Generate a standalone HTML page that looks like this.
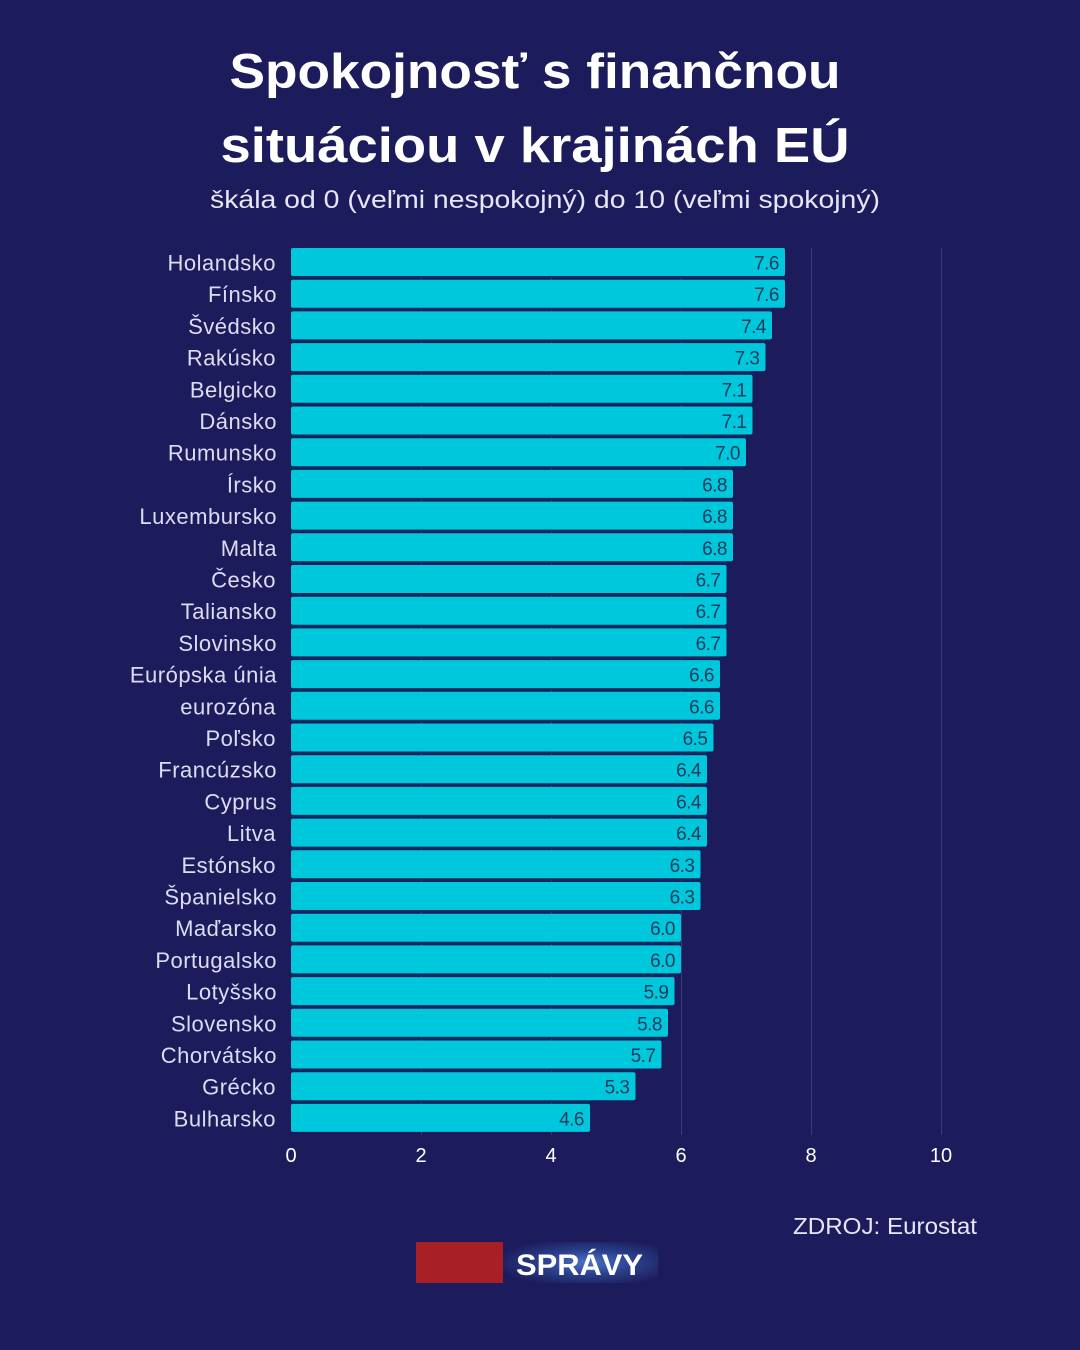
<!DOCTYPE html>
<html><head><meta charset="utf-8">
<style>
html,body{margin:0;padding:0;background:#1c1c5c;}
svg{display:block;}
text{font-family:"Liberation Sans",sans-serif;}
.bar{fill:#00c8dc;}
.gap{fill:#0c2f60;}
.val{font-size:19px;fill:#1f3a5c;text-anchor:end;letter-spacing:-0.5px;}
.lab{font-size:22px;fill:#dcdcf2;text-anchor:end;letter-spacing:0.5px;}
</style></head>
<body>
<svg width="1080" height="1350" viewBox="0 0 1080 1350" xmlns="http://www.w3.org/2000/svg">
<defs>
<radialGradient id="glow" cx="0.55" cy="0.5" r="0.6">
<stop offset="0" stop-color="#4a72c8"/>
<stop offset="0.5" stop-color="#2a3f8a"/>
<stop offset="1" stop-color="#1c1c5c"/>
</radialGradient>
</defs>
<rect width="1080" height="1350" fill="#1c1c5c"/>
<text x="535" y="88" text-anchor="middle" font-size="49" font-weight="bold" fill="#ffffff" textLength="611" lengthAdjust="spacingAndGlyphs">Spokojnosť s finančnou</text>
<text x="535" y="162" text-anchor="middle" font-size="49" font-weight="bold" fill="#ffffff" textLength="629" lengthAdjust="spacingAndGlyphs">situáciou v krajinách EÚ</text>
<text x="545" y="208" text-anchor="middle" font-size="25" fill="#e6e6f5" textLength="670" lengthAdjust="spacingAndGlyphs">škála od 0 (veľmi nespokojný) do 10 (veľmi spokojný)</text>
<g stroke="#3a3a7c" stroke-width="1">
<line x1="421.5" y1="248" x2="421.5" y2="1135"/>
<line x1="551.5" y1="248" x2="551.5" y2="1135"/>
<line x1="681.5" y1="248" x2="681.5" y2="1135"/>
<line x1="811.5" y1="248" x2="811.5" y2="1135"/>
<line x1="941.5" y1="248" x2="941.5" y2="1135"/>
</g>

<rect class="gap" x="291" y="276.2" width="494" height="2"/>
<rect class="gap" x="291" y="307.9" width="481" height="2"/>
<rect class="gap" x="291" y="339.6" width="474.5" height="2"/>
<rect class="gap" x="291" y="371.3" width="461.5" height="2"/>
<rect class="gap" x="291" y="403.0" width="461.5" height="2"/>
<rect class="gap" x="291" y="434.7" width="455" height="2"/>
<rect class="gap" x="291" y="466.4" width="442" height="2"/>
<rect class="gap" x="291" y="498.1" width="442" height="2"/>
<rect class="gap" x="291" y="529.8" width="442" height="2"/>
<rect class="gap" x="291" y="561.5" width="435.5" height="2"/>
<rect class="gap" x="291" y="593.2" width="435.5" height="2"/>
<rect class="gap" x="291" y="624.9" width="435.5" height="2"/>
<rect class="gap" x="291" y="656.6" width="429" height="2"/>
<rect class="gap" x="291" y="688.3" width="429" height="2"/>
<rect class="gap" x="291" y="720.0" width="422.5" height="2"/>
<rect class="gap" x="291" y="751.7" width="416" height="2"/>
<rect class="gap" x="291" y="783.4" width="416" height="2"/>
<rect class="gap" x="291" y="815.1" width="416" height="2"/>
<rect class="gap" x="291" y="846.8" width="409.5" height="2"/>
<rect class="gap" x="291" y="878.5" width="409.5" height="2"/>
<rect class="gap" x="291" y="910.2" width="390" height="2"/>
<rect class="gap" x="291" y="941.9" width="390" height="2"/>
<rect class="gap" x="291" y="973.6" width="383.5" height="2"/>
<rect class="gap" x="291" y="1005.3" width="377" height="2"/>
<rect class="gap" x="291" y="1037.0" width="370.5" height="2"/>
<rect class="gap" x="291" y="1068.7" width="344.5" height="2"/>
<rect class="gap" x="291" y="1100.4" width="299" height="2"/>

<rect class="bar" x="291" y="248.0" width="494" height="28" rx="2"/>
<rect class="bar" x="291" y="279.7" width="494" height="28" rx="2"/>
<rect class="bar" x="291" y="311.4" width="481" height="28" rx="2"/>
<rect class="bar" x="291" y="343.1" width="474.5" height="28" rx="2"/>
<rect class="bar" x="291" y="374.8" width="461.5" height="28" rx="2"/>
<rect class="bar" x="291" y="406.5" width="461.5" height="28" rx="2"/>
<rect class="bar" x="291" y="438.2" width="455" height="28" rx="2"/>
<rect class="bar" x="291" y="469.9" width="442" height="28" rx="2"/>
<rect class="bar" x="291" y="501.6" width="442" height="28" rx="2"/>
<rect class="bar" x="291" y="533.3" width="442" height="28" rx="2"/>
<rect class="bar" x="291" y="565.0" width="435.5" height="28" rx="2"/>
<rect class="bar" x="291" y="596.7" width="435.5" height="28" rx="2"/>
<rect class="bar" x="291" y="628.4" width="435.5" height="28" rx="2"/>
<rect class="bar" x="291" y="660.1" width="429" height="28" rx="2"/>
<rect class="bar" x="291" y="691.8" width="429" height="28" rx="2"/>
<rect class="bar" x="291" y="723.5" width="422.5" height="28" rx="2"/>
<rect class="bar" x="291" y="755.2" width="416" height="28" rx="2"/>
<rect class="bar" x="291" y="786.9" width="416" height="28" rx="2"/>
<rect class="bar" x="291" y="818.6" width="416" height="28" rx="2"/>
<rect class="bar" x="291" y="850.3" width="409.5" height="28" rx="2"/>
<rect class="bar" x="291" y="882.0" width="409.5" height="28" rx="2"/>
<rect class="bar" x="291" y="913.7" width="390" height="28" rx="2"/>
<rect class="bar" x="291" y="945.4" width="390" height="28" rx="2"/>
<rect class="bar" x="291" y="977.1" width="383.5" height="28" rx="2"/>
<rect class="bar" x="291" y="1008.8" width="377" height="28" rx="2"/>
<rect class="bar" x="291" y="1040.5" width="370.5" height="28" rx="2"/>
<rect class="bar" x="291" y="1072.2" width="344.5" height="28" rx="2"/>
<rect class="bar" x="291" y="1103.9" width="299" height="28" rx="2"/>

<text class="val" x="779" y="269.5">7.6</text>
<text class="val" x="779" y="301.2">7.6</text>
<text class="val" x="766" y="332.9">7.4</text>
<text class="val" x="759.5" y="364.6">7.3</text>
<text class="val" x="746.5" y="396.3">7.1</text>
<text class="val" x="746.5" y="428.0">7.1</text>
<text class="val" x="740" y="459.7">7.0</text>
<text class="val" x="727" y="491.4">6.8</text>
<text class="val" x="727" y="523.1">6.8</text>
<text class="val" x="727" y="554.8">6.8</text>
<text class="val" x="720.5" y="586.5">6.7</text>
<text class="val" x="720.5" y="618.2">6.7</text>
<text class="val" x="720.5" y="649.9">6.7</text>
<text class="val" x="714" y="681.6">6.6</text>
<text class="val" x="714" y="713.3">6.6</text>
<text class="val" x="707.5" y="745.0">6.5</text>
<text class="val" x="701" y="776.7">6.4</text>
<text class="val" x="701" y="808.4">6.4</text>
<text class="val" x="701" y="840.1">6.4</text>
<text class="val" x="694.5" y="871.8">6.3</text>
<text class="val" x="694.5" y="903.5">6.3</text>
<text class="val" x="675" y="935.2">6.0</text>
<text class="val" x="675" y="966.9">6.0</text>
<text class="val" x="668.5" y="998.6">5.9</text>
<text class="val" x="662" y="1030.3">5.8</text>
<text class="val" x="655.5" y="1062.0">5.7</text>
<text class="val" x="629.5" y="1093.7">5.3</text>
<text class="val" x="584" y="1125.4">4.6</text>

<text class="lab" x="276" y="270.5">Holandsko</text>
<text class="lab" x="277" y="302.2">Fínsko</text>
<text class="lab" x="276" y="333.9">Švédsko</text>
<text class="lab" x="276" y="365.6">Rakúsko</text>
<text class="lab" x="277" y="397.3">Belgicko</text>
<text class="lab" x="277" y="429.0">Dánsko</text>
<text class="lab" x="277" y="460.7">Rumunsko</text>
<text class="lab" x="277" y="492.4">Írsko</text>
<text class="lab" x="277" y="524.1">Luxembursko</text>
<text class="lab" x="277" y="555.8">Malta</text>
<text class="lab" x="276" y="587.5">Česko</text>
<text class="lab" x="277" y="619.2">Taliansko</text>
<text class="lab" x="277" y="650.9">Slovinsko</text>
<text class="lab" x="277" y="682.6">Európska únia</text>
<text class="lab" x="276" y="714.3">eurozóna</text>
<text class="lab" x="276" y="746.0">Poľsko</text>
<text class="lab" x="277" y="777.7">Francúzsko</text>
<text class="lab" x="277" y="809.4">Cyprus</text>
<text class="lab" x="276" y="841.1">Litva</text>
<text class="lab" x="276" y="872.8">Estónsko</text>
<text class="lab" x="277" y="904.5">Španielsko</text>
<text class="lab" x="277" y="936.2">Maďarsko</text>
<text class="lab" x="277" y="967.9">Portugalsko</text>
<text class="lab" x="277" y="999.6">Lotyšsko</text>
<text class="lab" x="277" y="1031.3">Slovensko</text>
<text class="lab" x="277" y="1063.0">Chorvátsko</text>
<text class="lab" x="276" y="1094.7">Grécko</text>
<text class="lab" x="276" y="1126.4">Bulharsko</text>

<g font-size="20" fill="#ffffff" text-anchor="middle">
<text x="291" y="1162">0</text>
<text x="421" y="1162">2</text>
<text x="551" y="1162">4</text>
<text x="681" y="1162">6</text>
<text x="811" y="1162">8</text>
<text x="941" y="1162">10</text>
</g>
<text x="977" y="1234" text-anchor="end" font-size="23" fill="#e6e6f5" textLength="184" lengthAdjust="spacingAndGlyphs">ZDROJ: Eurostat</text>
<rect x="503" y="1242" width="155" height="41" fill="url(#glow)"/>
<rect x="416" y="1242" width="87" height="41" fill="#a81f26"/>
<text x="516" y="1275" font-size="30" font-weight="bold" fill="#ffffff" textLength="127" lengthAdjust="spacingAndGlyphs">SPRÁVY</text>
</svg>
</body></html>
